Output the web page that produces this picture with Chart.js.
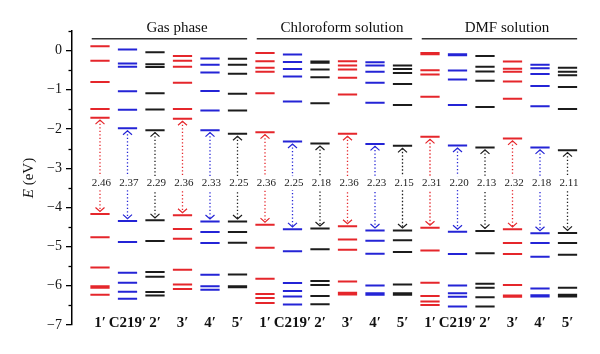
<!DOCTYPE html>
<html><head><meta charset="utf-8">
<script src="https://cdn.jsdelivr.net/npm/chart.js@4/dist/chart.umd.min.js"></script>
<style>html,body{margin:0;padding:0;background:#fff}</style>
</head><body>
<canvas id="c" width="600" height="354"></canvas>
<script>
// ---- data ----
const categories = ['1\u2032', 'C219\u2032', '2\u2032', '3\u2032', '4\u2032', '5\u2032'];
const phases = ['Gas phase', 'Chloroform solution', 'DMF solution'];
const moleculeColors = ['#e5262b', '#2424d6', '#1c1c1c', '#e5262b', '#2424d6', '#1c1c1c'];
const yTicks = [-7, -6, -5, -4, -3, -2, -1, 0];

// Gas phase
const gasUpper = [[0.11, -0.26, -0.80, -1.49], [0.03, -0.33, -0.41, -1.04, -1.51], [-0.04, -0.35, -0.42, -1.09, -1.50],
                  [-0.14, -0.26, -0.41, -0.82, -1.49], [-0.20, -0.36, -0.56, -1.03, -1.53], [-0.21, -0.36, -0.59, -1.10, -1.53]];
const gasLUMO = [-1.71, -1.98, -2.03, -1.74, -2.03, -2.12];
const gasHOMO = [-4.17, -4.35, -4.33, -4.20, -4.36, -4.36];
const gasLower = [[-4.76, -5.53, -6.01, -6.05, -6.23], [-4.88, -5.67, -5.92, -6.15, -6.33], [-4.86, -5.65, -5.77, -6.16, -6.25],
                  [-4.55, -4.80, -5.59, -5.97, -6.08], [-4.63, -4.91, -5.72, -6.01, -6.10], [-4.63, -4.90, -5.71, -6.01, -6.04]];
const gasGap = [2.46, 2.37, 2.29, 2.36, 2.33, 2.25];

// Chloroform solution
const chlUpper = [[-0.06, -0.27, -0.44, -0.54, -1.09], [-0.10, -0.29, -0.47, -0.66, -1.30], [-0.28, -0.31, -0.48, -0.68, -1.34],
                  [-0.27, -0.38, -0.48, -0.69, -1.12], [-0.30, -0.38, -0.54, -0.82, -1.33], [-0.38, -0.47, -0.57, -0.85, -1.39]];
const chlLUMO = [-2.08, -2.32, -2.37, -2.12, -2.38, -2.43];
const chlHOMO = [-4.44, -4.56, -4.54, -4.48, -4.59, -4.59];
const chlLower = [[-5.03, -5.82, -6.21, -6.31, -6.44], [-5.12, -5.93, -6.13, -6.27, -6.48], [-5.07, -5.88, -5.98, -6.26, -6.47],
                  [-4.82, -5.08, -5.89, -6.18, -6.22], [-4.85, -5.18, -5.99, -6.19, -6.23], [-4.84, -5.14, -5.97, -6.19, -6.23]];
const chlGap = [2.36, 2.25, 2.18, 2.36, 2.23, 2.15];

// DMF solution
const dmfUpper = [[-0.06, -0.09, -0.50, -0.61, -1.18], [-0.09, -0.12, -0.51, -0.74, -1.39], [-0.14, -0.41, -0.53, -0.77, -1.44],
                  [-0.28, -0.46, -0.54, -0.79, -1.23], [-0.36, -0.45, -0.60, -0.90, -1.42], [-0.44, -0.54, -0.63, -0.93, -1.49]];
const dmfLUMO = [-2.20, -2.42, -2.47, -2.24, -2.47, -2.54];
const dmfHOMO = [-4.52, -4.62, -4.60, -4.56, -4.66, -4.65];
const dmfLower = [[-5.10, -5.92, -6.26, -6.40, -6.49], [-5.19, -5.99, -6.19, -6.28, -6.53], [-5.17, -5.95, -6.05, -6.29, -6.53],
                  [-4.91, -5.19, -5.98, -6.25, -6.28], [-4.91, -5.26, -6.07, -6.24, -6.27], [-4.91, -5.21, -6.05, -6.23, -6.27]];
const dmfGap = [2.31, 2.20, 2.13, 2.32, 2.18, 2.11];

const gapLabelLevel = -3.38;

// ---- build ----
const phaseData = [
  {upper: gasUpper, lumo: gasLUMO, homo: gasHOMO, lower: gasLower, gap: gasGap},
  {upper: chlUpper, lumo: chlLUMO, homo: chlHOMO, lower: chlLower, gap: chlGap},
  {upper: dmfUpper, lumo: dmfLUMO, homo: dmfHOMO, lower: dmfLower, gap: dmfGap}
];
const HALF = 0.35;
const colorSets = {};
phaseData.forEach((pd, p) => {
  for (let m = 0; m < categories.length; m++) {
    const col = p * 6 + m;
    const c = moleculeColors[m];
    if (!colorSets[c]) colorSets[c] = [];
    const levels = [...pd.upper[m], pd.lumo[m], pd.homo[m], ...pd.lower[m]];
    levels.forEach(e => {
      colorSets[c].push({x: col - HALF, y: e}, {x: col + HALF, y: e}, {x: col, y: null});
    });
  }
});
const datasets = Object.keys(colorSets).map(c => ({
  data: colorSets[c], borderColor: c, borderWidth: 2, pointRadius: 0,
  spanGaps: false, tension: 0, borderCapStyle: 'butt', fill: false
}));

const SERIF = '"Liberation Serif", "DejaVu Serif", serif';

const decor = {
  id: 'decor',
  afterDatasetsDraw(chart) {
    const {ctx, scales: {x, y}} = chart;
    ctx.save();
    // arrows & gap labels
    phaseData.forEach((pd, p) => {
      for (let m = 0; m < categories.length; m++) {
        const col = p * 6 + m;
        const cx = x.getPixelForValue(col);
        const yl = y.getPixelForValue(pd.lumo[m]);
        const yh = y.getPixelForValue(pd.homo[m]);
        const c = moleculeColors[m];
        ctx.strokeStyle = c;
        ctx.lineWidth = 1.3;
        ctx.setLineDash([1.3, 2.2]);
        ctx.beginPath(); ctx.moveTo(cx, yl + 2.5); ctx.lineTo(cx, yh - 2.5); ctx.stroke();
        ctx.setLineDash([]);
        ctx.lineWidth = 1.2;
        ctx.beginPath();
        ctx.moveTo(cx - 4.5, yl + 6.5); ctx.lineTo(cx, yl + 2.5); ctx.lineTo(cx + 4.5, yl + 6.5);
        ctx.moveTo(cx - 4.5, yh - 6.5); ctx.lineTo(cx, yh - 2.5); ctx.lineTo(cx + 4.5, yh - 6.5);
        ctx.stroke();
        // label
        const ty = y.getPixelForValue(gapLabelLevel);
        ctx.font = '11px ' + SERIF;
        const txt = pd.gap[m].toFixed(2);
        const w = ctx.measureText(txt).width;
        ctx.fillStyle = '#fff';
        ctx.fillRect(cx - w / 2 - 1, ty - 7, w + 2, 14);
        ctx.fillStyle = '#222';
        ctx.textAlign = 'center'; ctx.textBaseline = 'middle';
        ctx.fillText(txt, cx + 1.5, ty);
      }
      // headers
      const x0 = x.getPixelForValue(p * 6 - 0.3), x1 = x.getPixelForValue(p * 6 + 5 + 0.35);
      const ly = y.getPixelForValue(0.30);
      ctx.strokeStyle = '#333'; ctx.lineWidth = 1.5;
      ctx.beginPath(); ctx.moveTo(x0, ly); ctx.lineTo(x1, ly); ctx.stroke();
      ctx.fillStyle = '#111';
      ctx.font = '15px ' + SERIF;
      ctx.textAlign = 'center'; ctx.textBaseline = 'alphabetic';
      ctx.fillText(phases[p], x.getPixelForValue(p * 6 + 2.8), y.getPixelForValue(0.5) + 1);
      // category labels
      ctx.font = 'bold 15px ' + SERIF;
      ctx.textBaseline = 'middle';
      for (let m = 0; m < categories.length; m++) {
        ctx.fillText(categories[m], x.getPixelForValue(p * 6 + m), y.getPixelForValue(-7) - 2);
      }
    });
    // minor ticks
    const ax = chart.chartArea.left;
    ctx.strokeStyle = '#000'; ctx.lineWidth = 1.3;
    for (let v = -6.5; v <= 0.5; v += 1) {
      const py = Math.round(y.getPixelForValue(v)) + 0.5;
      ctx.beginPath(); ctx.moveTo(ax - 3.5, py); ctx.lineTo(ax, py); ctx.stroke();
    }
    // y title
    ctx.translate(29, (chart.chartArea.top + chart.chartArea.bottom) / 2);
    ctx.rotate(-Math.PI / 2);
    ctx.textBaseline = 'middle'; ctx.textAlign = 'left';
    ctx.font = 'italic 15px ' + SERIF;
    const wE = ctx.measureText('E').width;
    ctx.font = '15px ' + SERIF;
    const wR = ctx.measureText(' (eV)').width;
    const start = -(wE + wR) / 2;
    ctx.fillStyle = '#111';
    ctx.font = 'italic 15px ' + SERIF;
    ctx.fillText('E', start, 0);
    ctx.font = '15px ' + SERIF;
    ctx.fillText(' (eV)', start + wE, 0);
    ctx.restore();
  }
};

new Chart(document.getElementById('c'), {
  type: 'line',
  data: {datasets},
  options: {
    responsive: false, animation: false, devicePixelRatio: 1,
    layout: {padding: {left: 0, top: 31, bottom: 29, right: 10}},
    plugins: {legend: {display: false}, tooltip: {enabled: false}},
    scales: {
      x: {type: 'linear', min: -1.018, max: 17.818, display: false},
      y: {
        type: 'linear', min: -7, max: 0.5,
        afterBuildTicks: s => { s.ticks = yTicks.map(v => ({value: v})); },
        afterFit: s => { s.width = 72; },
        grid: {drawOnChartArea: false, drawTicks: true, tickLength: 6, color: '#000', lineWidth: 1.3},
        border: {display: true, color: '#000', width: 1.5},
        ticks: {
          font: {family: 'Liberation Serif', size: 14}, color: '#111', padding: 4,
          callback: v => v < 0 ? '\u2212' + Math.abs(v) : String(v)
        }
      }
    }
  },
  plugins: [decor]
});
</script>
</body></html>
